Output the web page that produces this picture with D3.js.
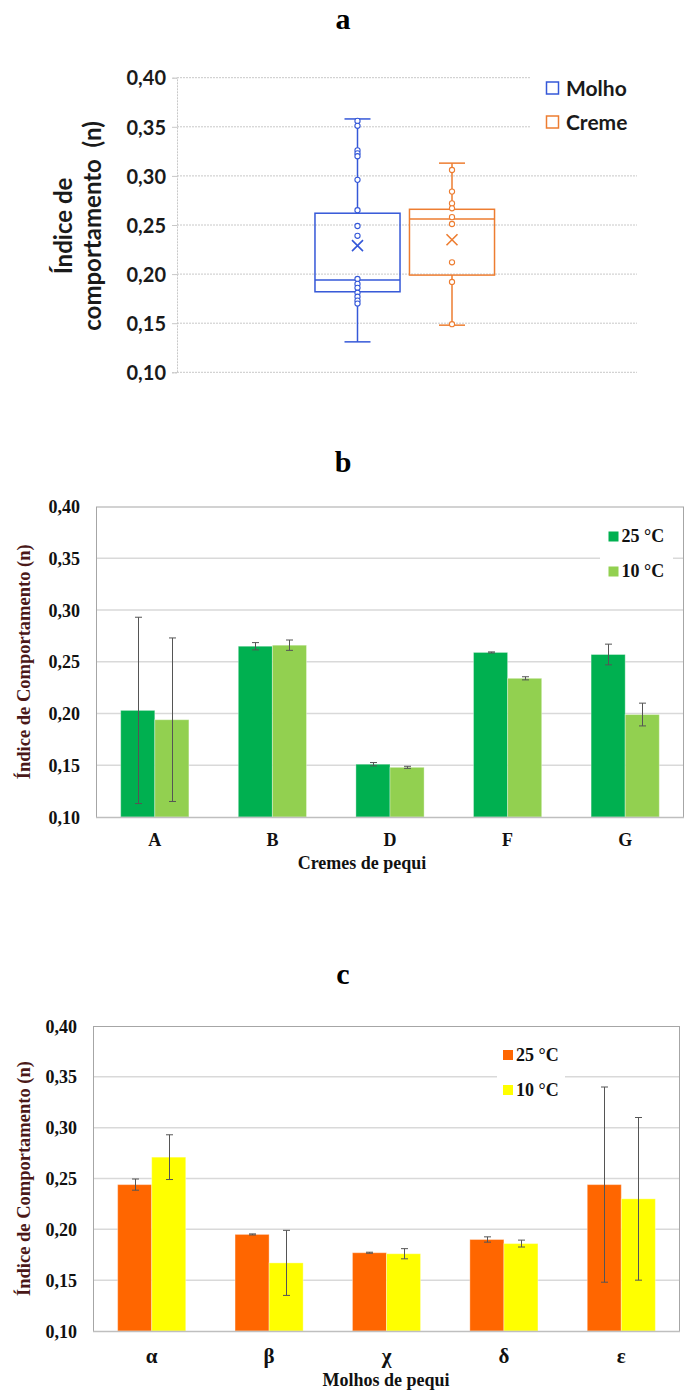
<!DOCTYPE html>
<html>
<head>
<meta charset="utf-8">
<script src="https://cdn.jsdelivr.net/npm/d3@7"></script>
<style>
  html, body { margin: 0; padding: 0; background: #fff; }
  svg { display: block; }
</style>
</head>
<body>
<svg id="chart" width="685" height="1394"></svg>
<script>
// ---- Panel a: box plots of the flow behaviour index ----
const boxSeries = ["Molho", "Creme"];
const boxMin    = [0.131, 0.148];
const boxQ1     = [0.182, 0.199];
const boxMedian = [0.194, 0.256];
const boxQ3     = [0.262, 0.266];
const boxMax    = [0.358, 0.313];
const boxMean   = [0.229, 0.235];
const molhoPoints = [0.356, 0.351, 0.326, 0.323, 0.320, 0.296, 0.265, 0.249, 0.239,
                     0.195, 0.190, 0.186, 0.181, 0.177, 0.173, 0.170];
const cremePoints = [0.306, 0.284, 0.272, 0.267, 0.258, 0.251, 0.212, 0.192, 0.149];

// ---- Panel b: creams at two temperatures ----
const cremeCats  = ["A", "B", "D", "F", "G"];
const creme25    = [0.203, 0.265, 0.151, 0.259, 0.257];
const creme25Err = [0.090, 0.0035, 0.0016, 0.0005, 0.010];
const creme10    = [0.194, 0.266, 0.148, 0.234, 0.199];
const creme10Err = [0.079, 0.005, 0.001, 0.0015, 0.011];

// ---- Panel c: sauces at two temperatures ----
const molhoCats  = ["α", "β", "χ", "δ", "ε"];
const molho25    = [0.244, 0.195, 0.177, 0.190, 0.244];
const molho25Err = [0.0055, 0.0005, 0.0005, 0.0026, 0.096];
const molho10    = [0.271, 0.167, 0.176, 0.186, 0.230];
const molho10Err = [0.022, 0.032, 0.005, 0.0034, 0.080];

const yTicks = [0.10, 0.15, 0.20, 0.25, 0.30, 0.35, 0.40];
const tempLabels = ["25 °C", "10 °C"];

const ptBR = d3.formatLocale({ decimal: ",", thousands: ".", grouping: [3], currency: ["R$", ""] });
const fmt = ptBR.format(".2f");

const svg = d3.select("#chart");
const SERIF = "'Liberation Serif', 'Times New Roman', serif";
const SANS = "Lato, 'Open Sans', sans-serif";

// ================= Panel a =================
(function () {
  const colors = { Molho: "#3558D8", Creme: "#ED7D31" };
  const L = 177, R = 637, T = 77.7, B = 372.3;
  const y = d3.scaleLinear().domain([0.10, 0.40]).range([B, T]);
  const x = d3.scaleBand().domain(boxSeries).range([310.25, 499.25])
    .paddingInner(0.1).paddingOuter(0.05);

  svg.append("text").attr("x", 343).attr("y", 29).attr("text-anchor", "middle")
    .style("font-family", SERIF).style("font-weight", "bold").style("font-size", "30px")
    .text("a");

  const g = svg.append("g");
  // gridlines (top two are cut short by the legend)
  g.selectAll("line.grid").data(yTicks).join("line")
    .attr("x1", L).attr("x2", d => d >= 0.35 ? 531 : R)
    .attr("y1", d => y(d)).attr("y2", d => y(d))
    .attr("stroke", "#c8c8c8").attr("stroke-width", 1).attr("stroke-dasharray", "2,1");

  // vertical axis with ticks and labels
  const axis = g.append("g").attr("transform", `translate(${L},0)`)
    .call(d3.axisLeft(y).tickValues(yTicks).tickFormat(fmt).tickSize(5).tickPadding(6));
  axis.select(".domain").attr("stroke", "#c8c8c8").attr("stroke-dasharray", "2,1");
  axis.selectAll(".tick line").attr("stroke", "#c8c8c8");
  axis.selectAll(".tick text").style("font-family", SANS).style("font-weight", "bold")
    .style("font-size", "20px").attr("fill", "#1a1a1a").attr("dy", "0.36em");

  // axis title, two rotated lines
  const title = g.append("text").attr("transform", "translate(0,226) rotate(-90)")
    .attr("text-anchor", "middle")
    .style("font-family", SANS).style("font-weight", "bold").style("font-size", "24px")
    .attr("fill", "#1a1a1a");
  title.append("tspan").attr("x", 0).attr("y", 72).text("Índice de");
  title.append("tspan").attr("x", 0).attr("y", 101).attr("xml:space", "preserve")
    .text("comportamento  (n)");

  const pointSets = [molhoPoints, cremePoints];
  boxSeries.forEach((s, i) => {
    const c = colors[s];
    const x0 = x(s), bw = x.bandwidth(), cx = x0 + bw / 2;
    const bg = g.append("g").attr("stroke", c).attr("fill", "none");
    // whiskers
    bg.append("line").attr("x1", cx).attr("x2", cx).attr("y1", y(boxQ3[i])).attr("y2", y(boxMax[i])).attr("stroke-width", 1.5);
    bg.append("line").attr("x1", cx).attr("x2", cx).attr("y1", y(boxQ1[i])).attr("y2", y(boxMin[i])).attr("stroke-width", 1.5);
    [boxMax[i], boxMin[i]].forEach(v => {
      bg.append("line").attr("x1", cx - 13).attr("x2", cx + 13).attr("y1", y(v)).attr("y2", y(v)).attr("stroke-width", 1.5);
    });
    // box and median
    bg.append("rect").attr("x", x0).attr("y", y(boxQ3[i])).attr("width", bw)
      .attr("height", y(boxQ1[i]) - y(boxQ3[i])).attr("stroke-width", 1.5);
    bg.append("line").attr("x1", x0).attr("x2", x0 + bw).attr("y1", y(boxMedian[i])).attr("y2", y(boxMedian[i])).attr("stroke-width", 1.5);
    // individual points
    bg.selectAll("circle").data(pointSets[i]).join("circle")
      .attr("cx", cx).attr("cy", d => y(d)).attr("r", 2.6).attr("stroke-width", 1.1).attr("fill", "#fff");
    // mean marker
    const my = y(boxMean[i]), h = 5.5;
    bg.append("path").attr("d", `M${cx - h},${my - h}L${cx + h},${my + h}M${cx - h},${my + h}L${cx + h},${my - h}`)
      .attr("stroke-width", 1.6);
  });

  // legend
  const lg = g.append("g");
  boxSeries.forEach((s, i) => {
    const yy = 82 + i * 34;
    lg.append("rect").attr("x", 546.5).attr("y", yy).attr("width", 12).attr("height", 12)
      .attr("fill", "none").attr("stroke", colors[s]).attr("stroke-width", 1.5);
    lg.append("text").attr("x", 566).attr("y", yy + 14).text(s)
      .style("font-family", SANS).style("font-weight", "bold").style("font-size", "21px").attr("fill", "#1a1a1a");
  });
})();

// ================= Bar panels b and c =================
function barPanel(opts) {
  const { L, R, T, B, cats, v25, e25, v10, e10, colors, panelLabel, labelY,
          xTitle, xTitleX, xTitleY, catLabelY, catSize, legendX, legendY, legendBox } = opts;
  const y = d3.scaleLinear().domain([0.10, 0.40]).range([B, T]);
  const x = d3.scaleBand().domain(cats).range([L, R]).paddingInner(0.42).paddingOuter(0.21);
  const sub = d3.scaleBand().domain([0, 1]).range([0, x.bandwidth()]);
  const g = svg.append("g");

  g.append("text").attr("x", 343).attr("y", labelY).attr("text-anchor", "middle")
    .style("font-family", SERIF).style("font-weight", "bold").style("font-size", "30px")
    .text(panelLabel);

  // gridlines
  g.selectAll("line.grid").data(yTicks.slice(1, -1)).join("line")
    .attr("x1", L).attr("x2", R).attr("y1", d => y(d)).attr("y2", d => y(d))
    .attr("stroke", "#d9d9d9").attr("stroke-width", 1.5);

  // legend background interrupts the grid
  g.append("rect").attr("x", legendBox[0]).attr("y", legendBox[1])
    .attr("width", legendBox[2]).attr("height", legendBox[3]).attr("fill", "#fff");

  // y axis labels
  const axis = g.append("g").attr("transform", `translate(${L},0)`)
    .call(d3.axisLeft(y).tickValues(yTicks).tickFormat(fmt).tickSize(0).tickPadding(16));
  axis.select(".domain").remove();
  axis.selectAll(".tick text").style("font-family", SERIF).style("font-weight", "bold")
    .style("font-size", "18px").attr("fill", "#111").attr("dy", "0.34em");

  // bars
  const series = [{ v: v25, e: e25, c: colors[0] }, { v: v10, e: e10, c: colors[1] }];
  series.forEach((s, k) => {
    g.append("g").selectAll("rect").data(cats).join("rect")
      .attr("x", (d) => x(d) + sub(k)).attr("width", sub.bandwidth())
      .attr("y", (d, i) => y(s.v[i])).attr("height", (d, i) => B - y(s.v[i]))
      .attr("fill", s.c).attr("stroke", "rgba(255,255,255,0.35)").attr("stroke-width", 1);
  });
  // error bars
  series.forEach((s, k) => {
    const eg = g.append("g").attr("stroke", "#555").attr("stroke-width", 1).attr("fill", "none");
    cats.forEach((d, i) => {
      const cx = Math.round(x(d) + sub(k) + sub.bandwidth() / 2) + 0.5;
      const y1 = y(s.v[i] + s.e[i]), y2 = y(s.v[i] - s.e[i]);
      eg.append("path").attr("d", `M${cx},${y1}V${y2}M${cx - 3.5},${y1}H${cx + 3.5}M${cx - 3.5},${y2}H${cx + 3.5}`);
    });
  });

  // frame
  g.append("rect").attr("x", L + 0.5).attr("y", T + 0.5).attr("width", R - L - 1).attr("height", B - T)
    .attr("fill", "none").attr("stroke", "#a6a6a6").attr("stroke-width", 1);
  g.append("line").attr("x1", L).attr("x2", R).attr("y1", B + 0.5).attr("y2", B + 0.5)
    .attr("stroke", "#bfbfbf").attr("stroke-width", 1.5);

  // category labels
  g.selectAll("text.cat").data(cats).join("text")
    .attr("x", d => x(d) + x.bandwidth() / 2).attr("y", catLabelY).attr("text-anchor", "middle")
    .style("font-family", SERIF).style("font-weight", "bold").style("font-size", catSize + "px")
    .attr("fill", "#111").text(d => d);

  g.append("text").attr("x", xTitleX).attr("y", xTitleY).attr("text-anchor", "middle")
    .style("font-family", SERIF).style("font-weight", "bold").style("font-size", "18px")
    .attr("fill", "#111").text(xTitle);

  g.append("text").attr("transform", `translate(30,${(T + B) / 2}) rotate(-90)`)
    .attr("text-anchor", "middle")
    .style("font-family", SERIF).style("font-weight", "bold").style("font-size", "18.5px")
    .attr("fill", "#4a1818").text("Índice de Comportamento (n)");

  // legend
  tempLabels.forEach((t, k) => {
    const yy = legendY + k * 35;
    g.append("rect").attr("x", legendX).attr("y", yy).attr("width", 10).attr("height", 10).attr("fill", colors[k]);
    g.append("text").attr("x", legendX + 13).attr("y", yy + 10.5).text(t)
      .style("font-family", SERIF).style("font-weight", "bold").style("font-size", "18px").attr("fill", "#111");
  });
}

barPanel({
  L: 96, R: 684, T: 506.5, B: 817, cats: cremeCats,
  v25: creme25, e25: creme25Err, v10: creme10, e10: creme10Err,
  colors: ["#00B050", "#92D050"], panelLabel: "b", labelY: 472,
  xTitle: "Cremes de pequi", xTitleX: 362, xTitleY: 869, catLabelY: 846, catSize: 18,
  legendX: 608.5, legendY: 531.5, legendBox: [600, 515, 73, 75]
});

barPanel({
  L: 93, R: 680, T: 1026, B: 1331, cats: molhoCats,
  v25: molho25, e25: molho25Err, v10: molho10, e10: molho10Err,
  colors: ["#FF6600", "#FFFF00"], panelLabel: "c", labelY: 984,
  xTitle: "Molhos de pequi", xTitleX: 386, xTitleY: 1386, catLabelY: 1363, catSize: 21,
  legendX: 503, legendY: 1050, legendBox: [497, 1035, 68, 75]
});
</script>
</body>
</html>
